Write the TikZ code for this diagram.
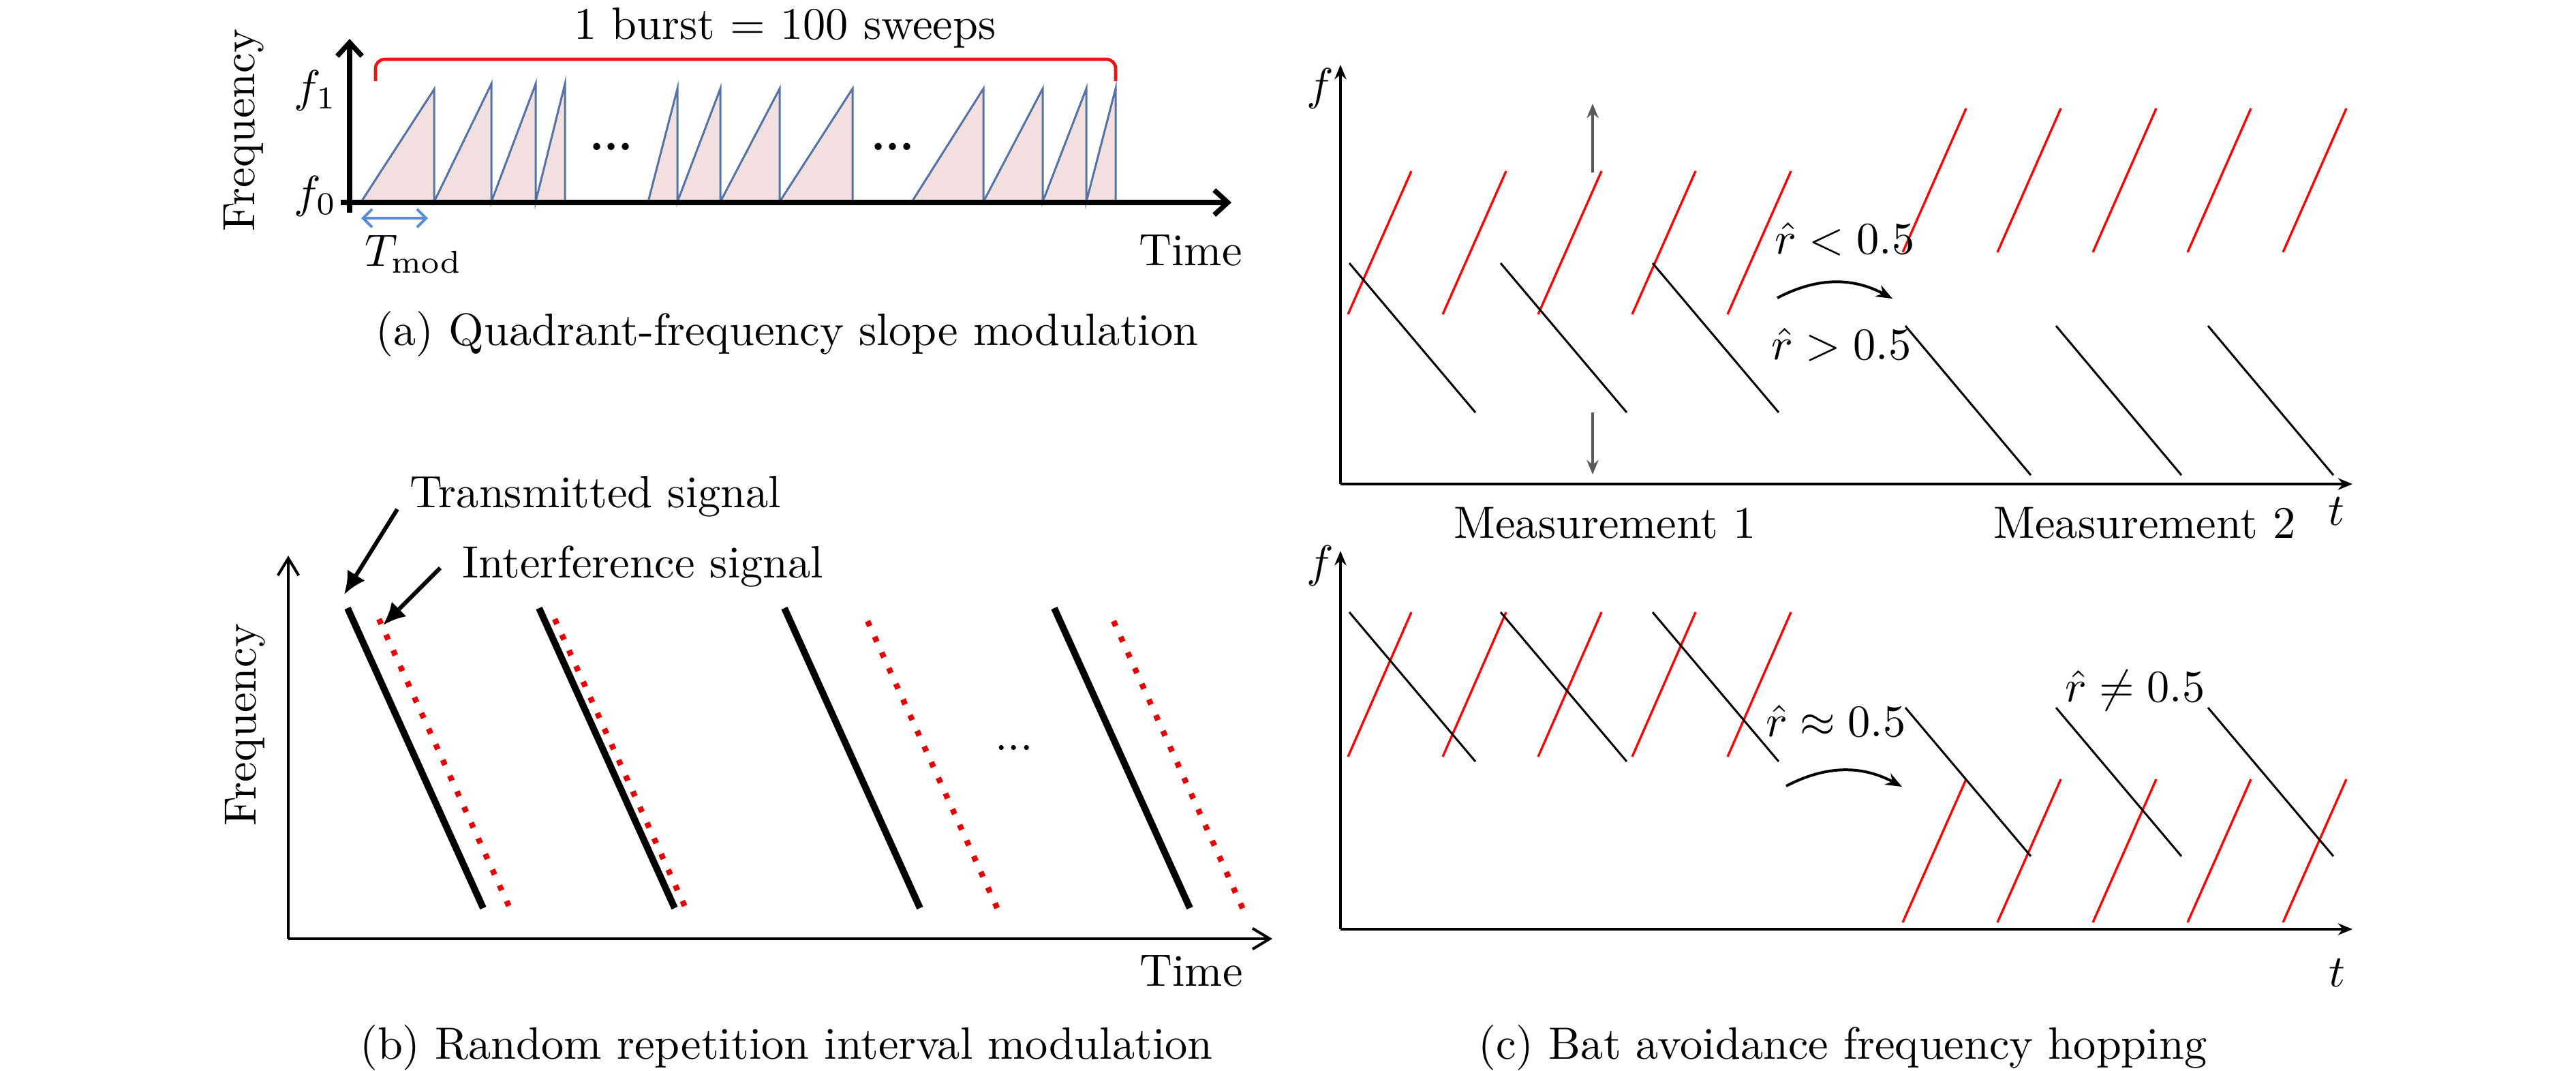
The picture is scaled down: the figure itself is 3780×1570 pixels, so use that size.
\documentclass[tikz,border=0pt]{standalone}
\usetikzlibrary{arrows.meta}
\definecolor{sawblue}{RGB}{84,114,164}
\definecolor{sawfill}{RGB}{242,224,224}
\definecolor{tmodblue}{RGB}{91,140,210}
\definecolor{dotred}{RGB}{228,0,0}
\definecolor{brred}{RGB}{235,20,20}
\definecolor{arrgray}{RGB}{90,90,90}
\begin{document}
\begin{tikzpicture}[x=0.0052910cm,y=-0.0052910cm,
  lbl/.style={inner sep=0pt},
  saw/.style={draw=sawblue,fill=sawfill,line width=0.45pt,line join=miter},
  axa/.style={line width=1.1pt,-{Straight Barb[length=3pt,width=5.5pt]}},
  axb/.style={line width=0.6pt,-{Straight Barb[length=3.8pt,width=4.6pt]}},
  axc/.style={line width=0.7pt,-{Stealth[length=3.2pt,width=2.6pt]}},
  tx/.style={line width=1.5pt,black},
  itf/.style={line width=1.25pt,dotred,dash pattern=on 1.2pt off 2.6pt},
  redl/.style={line width=0.5pt,red},
  blkl/.style={line width=0.45pt,black},
  callout/.style={line width=0.9pt,-{Latex[length=5pt,width=4.6pt]}},
  vshift/.style={line width=0.6pt,arrgray,-{Stealth[length=3.2pt,width=2.6pt]}},
  bendarr/.style={line width=0.6pt,-{Stealth[length=3.6pt,width=2.8pt]}}]
\path[use as bounding box] (0,0) rectangle (3780,1570);

% ---------------- (a) ----------------
\filldraw[saw] (530,296) -- (637,131) -- (637,296) -- (721,123) -- (721,296) -- (786,123) -- (786,296) -- (829,123) -- (829,296) -- cycle;
\filldraw[saw] (951,296) -- (994,130) -- (994,296) -- (1057,130) -- (1057,296) -- (1144,130) -- (1144,296) -- (1251,130) -- (1251,296) -- cycle;
\filldraw[saw] (1338,296) -- (1443,130) -- (1443,296) -- (1530,130) -- (1530,296) -- (1594,130) -- (1594,296) -- (1637,130) -- (1637,296) -- cycle;
\coordinate (aO) at (513,312);
\coordinate (aX0) at (500,297);
\coordinate (aX1) at (1807,297);
\coordinate (aY1) at (513,57);
\draw[axa] (aX0) -- (aX1);
\draw[axa] (aO) -- (aY1);
\draw[brred,line width=0.7pt,rounded corners=2pt] (551,119) -- (551,87) -- (1637,87) -- (1637,119);
\node[lbl,anchor=base] (burst) at (1152,57) {1 burst $=$ 100 sweeps};
\node[lbl,anchor=base] (dotsa1) at (897,220) {\textbf{...}};
\node[lbl,anchor=base] (dotsa2) at (1310,220) {\textbf{...}};
\node[lbl] (f1) at (463,133) {$f_1$};
\node[lbl] (f0) at (463,288) {$f_0$};
\node[lbl,rotate=90] (freqa) at (358,191) {Frequency};
\coordinate (tm0) at (530,320);
\coordinate (tm1) at (628,320);
\draw[tmodblue,line width=0.6pt,{Straight Barb[length=2pt,width=4pt]}-{Straight Barb[length=2pt,width=4pt]}] (tm0) -- (tm1);
\node[lbl] (tmod) at (607,373) {$T_{\mathrm{mod}}$};
\node[lbl] (timea) at (1747,367) {Time};
\node[lbl,anchor=base] (capa) at (1155,506) {(a) Quadrant-frequency slope modulation};

% ---------------- (b) ----------------
\coordinate (bO) at (423,1377);
\coordinate (bY1) at (423,815);
\coordinate (bX1) at (1867,1377);
\draw[axb] (bO) -- (bY1);
\draw[axb] (bO) -- (bX1);
\draw[tx] (510,892) -- (709,1332);
\draw[tx] (791,892) -- (990,1332);
\draw[tx] (1151,892) -- (1350,1332);
\draw[tx] (1547,892) -- (1746,1332);
\draw[itf] (556,908) -- (748,1332);
\draw[itf] (814,908) -- (1006,1332);
\draw[itf] (1273,911) -- (1465,1336);
\draw[itf] (1634,911) -- (1825,1336);
\node[lbl,anchor=base] (dotsb) at (1488,1100) {...};
\node[lbl,anchor=base west] (txlbl) at (600,744) {Transmitted signal};
\node[lbl,anchor=base west] (iflbl) at (677,847) {Interference signal};
\coordinate (txs) at (583,747);
\coordinate (txe) at (505,872);
\coordinate (ifs) at (646,833);
\coordinate (ife) at (562,917);
\draw[callout] (txs) -- (txe);
\draw[callout] (ifs) -- (ife);
\node[lbl,rotate=90] (freqb) at (360,1063) {Frequency};
\node[lbl,anchor=base] (timeb) at (1748,1446) {Time};
\node[lbl,anchor=base] (capb) at (1154,1553) {(b) Random repetition interval modulation};

% ---------------- (c) top ----------------
\coordinate (cO) at (1967,710);
\coordinate (cY1) at (1967,95);
\coordinate (cX1) at (3452,710);
\draw[axc] (cO) -- (cY1);
\draw[axc] (cO) -- (cX1);
\foreach \x in {1978,2117,2257,2395,2535} \draw[redl] (\x,461) -- ++(93,-210);
\foreach \x in {2792,2931,3071,3210,3350} \draw[redl] (\x,370) -- ++(93,-211);
\foreach \x in {1980,2202,2425} \draw[blkl] (\x,386) -- ++(185,219);
\foreach \x in {2796,3017,3240} \draw[blkl] (\x,478) -- ++(184,219);
\coordinate (vu0) at (2337,253);
\coordinate (vu1) at (2337,152);
\coordinate (vd0) at (2337,605);
\coordinate (vd1) at (2337,696);
\draw[vshift] (vu0) -- (vu1);
\draw[vshift] (vd0) -- (vd1);
\node[lbl] (fc1) at (1937,130) {$f$};
\node[lbl] (tc1) at (3428,750) {$t$};
\node[lbl,anchor=base] (rlt) at (2707,372) {$\hat r < 0.5$};
\node[lbl,anchor=base] (rgt) at (2702,527) {$\hat r > 0.5$};
\coordinate (ca0) at (2608,437);
\coordinate (ca1) at (2777,438);
\draw[bendarr] (ca0) to[bend left=28] (ca1);
\node[lbl,anchor=base] (meas1) at (2355,789) {Measurement 1};
\node[lbl,anchor=base] (meas2) at (3147,789) {Measurement 2};

% ---------------- (c) bottom ----------------
\coordinate (dO) at (1967,1363);
\coordinate (dY1) at (1967,808);
\coordinate (dX1) at (3452,1363);
\draw[axc] (dO) -- (dY1);
\draw[axc] (dO) -- (dX1);
\foreach \x in {1978,2117,2257,2395,2535} \draw[redl] (\x,1110) -- ++(93,-212);
\foreach \x in {2792,2931,3071,3210,3350} \draw[redl] (\x,1353) -- ++(93,-210);
\foreach \x in {1980,2202,2425} \draw[blkl] (\x,898) -- ++(185,219);
\foreach \x in {2796,3017,3240} \draw[blkl] (\x,1038) -- ++(184,218);
\node[lbl] (fc2) at (1937,830) {$f$};
\node[lbl] (tc2) at (3429,1427) {$t$};
\node[lbl,anchor=base] (rap) at (2694,1080) {$\hat r \approx 0.5$};
\node[lbl,anchor=base] (rne) at (3133,1029) {$\hat r \neq 0.5$};
\coordinate (cb0) at (2621,1153);
\coordinate (cb1) at (2791,1154);
\draw[bendarr] (cb0) to[bend left=28] (cb1);
\node[lbl,anchor=base] (capc) at (2704,1553) {(c) Bat avoidance frequency hopping};
\end{tikzpicture}
\end{document}
